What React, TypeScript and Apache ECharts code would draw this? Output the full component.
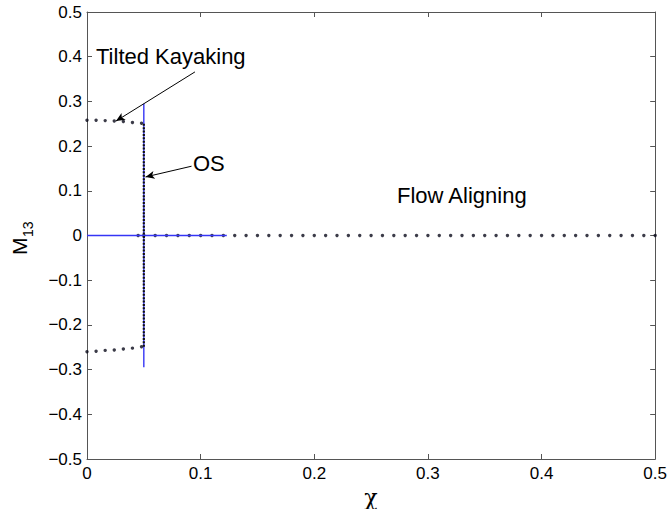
import React, { useEffect, useRef } from "react";
import * as echarts from "echarts";

// Axis ranges / ticks
const xTicks = [0, 0.1, 0.2, 0.3, 0.4, 0.5];
const yTicks = [-0.5, -0.4, -0.3, -0.2, -0.1, 0, 0.1, 0.2, 0.3, 0.4, 0.5];

// Blue lines (OS solution)
const blueVertical: [number, number][] = [[0.05, 0.295], [0.05, -0.295]];
const blueHorizontal: [number, number][] = [[0, 0], [0.123, 0]];

// Black dense dotted vertical segment
const blackVertical: [number, number][] = [[0.05, 0.25], [0.05, -0.25]];

// Tilted kayaking branches
const branchX = [0, 0.008, 0.016, 0.024, 0.032, 0.04, 0.048];
const upperY = [0.258, 0.258, 0.257, 0.256, 0.255, 0.253, 0.251];
const lowerY = [-0.26, -0.259, -0.257, -0.256, -0.254, -0.252, -0.249];

// Flow aligning branch (M13 = 0)
const flowX = [
  0.045, 0.05, 0.06, 0.07, 0.08, 0.09, 0.1, 0.11, 0.12, 0.13, 0.14, 0.15, 0.16,
  0.17, 0.18, 0.19, 0.2, 0.21, 0.22, 0.23, 0.24, 0.25, 0.26, 0.27, 0.28, 0.29,
  0.3, 0.31, 0.32, 0.33, 0.34, 0.35, 0.36, 0.37, 0.38, 0.39, 0.4, 0.41, 0.42,
  0.43, 0.44, 0.45, 0.46, 0.47, 0.48, 0.49, 0.5,
];
const flowY = flowX.map(() => 0);

// Annotation arrows: [start, tip] in data coordinates
const kayakArrow: [number, number][] = [[0.095, 0.366], [0.0255, 0.256]];
const osArrow: [number, number][] = [[0.092, 0.155], [0.0515, 0.131]];

const FONT = "Liberation Sans, Arial, Helvetica, sans-serif";

const fmt = (v: number) => {
  if (Math.abs(v) < 1e-9) return "0";
  return v.toFixed(1).replace("-", "\u2212");
};

export default function App() {
  const ref = useRef<HTMLDivElement>(null);
  useEffect(() => {
    if (!ref.current) return;
    const chart = echarts.init(ref.current, undefined, { renderer: "svg" });
    const axisLine = { show: true, onZero: false, lineStyle: { color: "#555", width: 1 } };
    const tick = { show: true, inside: true, length: 5, lineStyle: { color: "#555" } };
    const label = { color: "#000", fontSize: 17, fontFamily: FONT, formatter: fmt };
    const dot = { color: "#0a0a1a" };
    const blue = { color: "#3535f5", width: 1.4 };
    chart.setOption({
      animation: false,
      backgroundColor: "#fff",
      grid: { left: 87, right: 14, top: 12, bottom: 50, containLabel: false },
      xAxis: [
        {
          type: "value", min: xTicks[0], max: xTicks[xTicks.length - 1], interval: 0.1,
          position: "bottom", axisLine, axisTick: tick, splitLine: { show: false },
          axisLabel: { ...label, margin: 6 },
        },
        {
          type: "value", min: xTicks[0], max: xTicks[xTicks.length - 1], interval: 0.1,
          position: "top", axisLine, axisTick: tick, splitLine: { show: false },
          axisLabel: { show: false },
        },
      ],
      yAxis: [
        {
          type: "value", min: yTicks[0], max: yTicks[yTicks.length - 1], interval: 0.1,
          position: "left", axisLine, axisTick: tick, splitLine: { show: false },
          axisLabel: { ...label, margin: 5 },
        },
        {
          type: "value", min: yTicks[0], max: yTicks[yTicks.length - 1], interval: 0.1,
          position: "right", axisLine, axisTick: tick, splitLine: { show: false },
          axisLabel: { show: false },
        },
      ],
      series: [
        {
          type: "line", data: blueVertical, symbol: "none", color: blue.color,
          lineStyle: blue,
        },
        {
          type: "line", data: blueHorizontal, symbol: "none", color: blue.color,
          lineStyle: blue,
        },
        {
          type: "line", data: blackVertical, symbol: "none", color: "#111",
          lineStyle: { color: "#111", width: 2.2, type: [2, 1.4] },
        },
        {
          type: "scatter", data: branchX.map((x, i) => [x, upperY[i]]),
          symbolSize: 3.4, itemStyle: dot,
        },
        {
          type: "scatter", data: branchX.map((x, i) => [x, lowerY[i]]),
          symbolSize: 3.4, itemStyle: dot,
        },
        {
          type: "scatter", data: flowX.map((x, i) => [x, flowY[i]]),
          symbolSize: 3.4, itemStyle: dot,
        },
        {
          type: "line", data: [], silent: true,
          markLine: {
            silent: true, animation: false,
            symbol: ["none", "arrow"], symbolSize: [6, 9],
            label: { show: false },
            lineStyle: { color: "#000", width: 1, type: "solid" },
            data: [
              [{ coord: kayakArrow[0] }, { coord: kayakArrow[1] }],
              [{ coord: osArrow[0] }, { coord: osArrow[1] }],
            ],
          },
        },
      ],
      graphic: [
        {
          type: "text", left: 96, top: 45,
          style: { text: "Tilted Kayaking", fontSize: 22, fontFamily: FONT, fill: "#000" },
        },
        {
          type: "text", left: 193, top: 152,
          style: { text: "OS", fontSize: 22, fontFamily: FONT, fill: "#000" },
        },
        {
          type: "text", left: 397, top: 184,
          style: { text: "Flow Aligning", fontSize: 22, fontFamily: FONT, fill: "#000" },
        },
        {
          type: "text", x: 371, y: 497,
          style: {
            text: "\u03c7", fontSize: 22, fontFamily: "DejaVu Serif, serif",
            fill: "#000", align: "center", verticalAlign: "middle",
          },
        },
        {
          type: "group", x: 19, y: 255, rotation: Math.PI / 2,
          children: [
            {
              type: "text", x: 0, y: 0,
              style: { text: "M", fontSize: 21, fontFamily: FONT, fill: "#000", align: "left", verticalAlign: "middle" },
            },
            {
              type: "text", x: 18, y: 9,
              style: { text: "13", fontSize: 14, fontFamily: FONT, fill: "#000", align: "left", verticalAlign: "middle" },
            },
          ],
        },
      ],
    });
    return () => chart.dispose();
  }, []);
  return <div ref={ref} style={{ width: 670, height: 509, position: "absolute", left: 0, top: 0 }} />;
}
